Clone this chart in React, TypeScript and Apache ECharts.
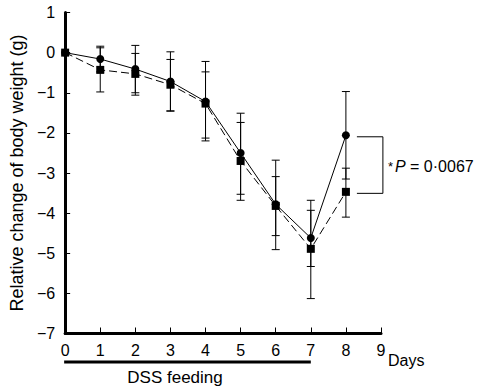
import React, { useEffect, useRef } from "react";
import * as echarts from "echarts";

const days = [0, 1, 2, 3, 4, 5, 6, 7, 8];
const circleMean = [0, -0.16, -0.41, -0.72, -1.22, -2.5, -3.78, -4.62, -2.06];
const circleUpper = [0, 0.16, 0.18, 0.02, -0.22, -1.51, -2.68, -3.93, -0.97];
const circleLower = [0, -0.48, -1.0, -1.46, -2.2, -3.53, -4.91, -5.33, -3.15];
const squareMean = [0, -0.43, -0.53, -0.8, -1.27, -2.7, -3.82, -4.89, -3.47];
const squareUpper = [0, 0.12, -0.02, -0.17, -0.48, -1.74, -3.09, -3.68, -2.88];
const squareLower = [0, -0.98, -1.06, -1.45, -2.13, -3.68, -4.56, -6.13, -4.1];
const xTicks = [0, 1, 2, 3, 4, 5, 6, 7, 8, 9];
const yTicks = [1, 0, -1, -2, -3, -4, -5, -6, -7];
const pText = "0·0067";

const FONT = "Liberation Sans, Arial, Helvetica, sans-serif";

function errorSeries(mean: number[], lo: number[], hi: number[], z: number) {
  return {
    type: "custom",
    z,
    silent: true,
    data: days.map((d, i) => [d, lo[i], hi[i]]),
    renderItem: (params: any, api: any) => {
      const x = api.value(0);
      const l = api.value(1);
      const h = api.value(2);
      if (l === h) return null;
      const p1 = api.coord([x, h]);
      const p2 = api.coord([x, l]);
      const w = 4;
      const style = { stroke: "#000", lineWidth: 1, fill: "none" };
      return {
        type: "group",
        children: [
          { type: "line", shape: { x1: p1[0], y1: p1[1], x2: p2[0], y2: p2[1] }, style },
          { type: "line", shape: { x1: p1[0] - w, y1: p1[1], x2: p1[0] + w, y2: p1[1] }, style },
          { type: "line", shape: { x1: p2[0] - w, y1: p2[1], x2: p2[0] + w, y2: p2[1] }, style },
        ],
      };
    },
  };
}

export default function App() {
  const ref = useRef<HTMLDivElement>(null);
  useEffect(() => {
    if (!ref.current) return;
    const chart = echarts.init(ref.current, null, { renderer: "svg" });
    const fmt = (v: number) => String(v).replace("-", "\u2212");
    chart.setOption({
      animation: false,
      backgroundColor: "#fff",
      grid: { left: 57, right: 98, top: 12.5, bottom: 53.5, containLabel: false },
      xAxis: {
        type: "value",
        min: 0,
        max: 9,
        interval: 1,
        axisLine: { show: true, onZero: false, lineStyle: { color: "#000", width: 3 } },
        axisTick: { show: true, inside: true, length: 6, lineStyle: { color: "#000", width: 1 } },
        axisLabel: {
          color: "#000",
          fontFamily: FONT,
          fontSize: 16,
          margin: 9,
          formatter: (v: number) => (xTicks.includes(v) ? fmt(v) : ""),
        },
        splitLine: { show: false },
      },
      yAxis: {
        type: "value",
        min: -7,
        max: 1,
        interval: 1,
        name: "Relative change of body weight (g)",
        nameLocation: "middle",
        nameGap: 38,
        nameTextStyle: { color: "#000", fontFamily: FONT, fontSize: 18 },
        axisLine: { show: true, onZero: false, lineStyle: { color: "#000", width: 3 } },
        axisTick: { show: true, inside: true, length: 5, lineStyle: { color: "#000", width: 1 } },
        axisLabel: {
          color: "#000",
          fontFamily: FONT,
          fontSize: 16,
          margin: 10,
          formatter: (v: number) => (yTicks.includes(v) ? fmt(v) : ""),
        },
        splitLine: { show: false },
      },
      series: [
        errorSeries(circleMean, circleLower, circleUpper, 1),
        errorSeries(squareMean, squareLower, squareUpper, 1),
        {
          type: "line",
          z: 3,
          data: days.map((d, i) => [d, circleMean[i]]),
          symbol: "circle",
          symbolSize: 8,
          itemStyle: { color: "#000" },
          lineStyle: { color: "#000", width: 1 },
        },
        {
          type: "line",
          z: 4,
          data: days.map((d, i) => [d, squareMean[i]]),
          symbol: "rect",
          symbolSize: 8,
          itemStyle: { color: "#000" },
          lineStyle: { color: "#000", width: 1, type: [8, 4] },
        },
      ],
    });

    const pc = chart.convertToPixel({ gridIndex: 0 }, [8, circleMean[8]]) as number[];
    const ps = chart.convertToPixel({ gridIndex: 0 }, [8, squareMean[8]]) as number[];
    const p0 = chart.convertToPixel({ gridIndex: 0 }, [0, -7]) as number[];
    const p7 = chart.convertToPixel({ gridIndex: 0 }, [7, -7]) as number[];
    const p9 = chart.convertToPixel({ gridIndex: 0 }, [9, -7]) as number[];
    const bx1 = pc[0] + 11;
    const bx2 = pc[0] + 37;
    chart.setOption({
      graphic: [
        {
          type: "polyline",
          shape: { points: [[bx1, pc[1] + 1.5], [bx2, pc[1] + 1.5], [bx2, ps[1] + 1.5], [bx1, ps[1] + 1.5]] },
          style: { stroke: "#000", lineWidth: 1, fill: "none" },
        },
        {
          type: "text",
          x: bx2 + 5,
          y: (pc[1] + ps[1]) / 2 + 3,
          style: {
            text: "{s|*}{i|P} = " + pText,
            fontFamily: FONT,
            fontSize: 16,
            fill: "#000",
            verticalAlign: "middle",
            align: "left",
            rich: {
              s: { fontSize: 13, fontFamily: FONT, fill: "#000", padding: [0, 2, 0, 0] },
              i: { fontSize: 16, fontStyle: "italic", fontFamily: FONT, fill: "#000" },
            },
          },
        },
        {
          type: "rect",
          shape: { x: p0[0] - 1, y: p0[1] + 27, width: p7[0] - p0[0] + 1, height: 3 },
          style: { fill: "#000" },
        },
        {
          type: "text",
          x: 175,
          y: 377,
          style: {
            text: "DSS feeding",
            fontFamily: FONT,
            fontSize: 17,
            fill: "#000",
            align: "center",
            verticalAlign: "middle",
          },
        },
        {
          type: "text",
          x: p9[0] + 7,
          y: p9[1] + 27,
          style: {
            text: "Days",
            fontFamily: FONT,
            fontSize: 16,
            fill: "#000",
            align: "left",
            verticalAlign: "middle",
          },
        },
      ],
    });
    return () => chart.dispose();
  }, []);
  return (
    <div
      ref={ref}
      style={{ position: "absolute", left: 0, top: 0, width: 479, height: 387 }}
    />
  );
}
